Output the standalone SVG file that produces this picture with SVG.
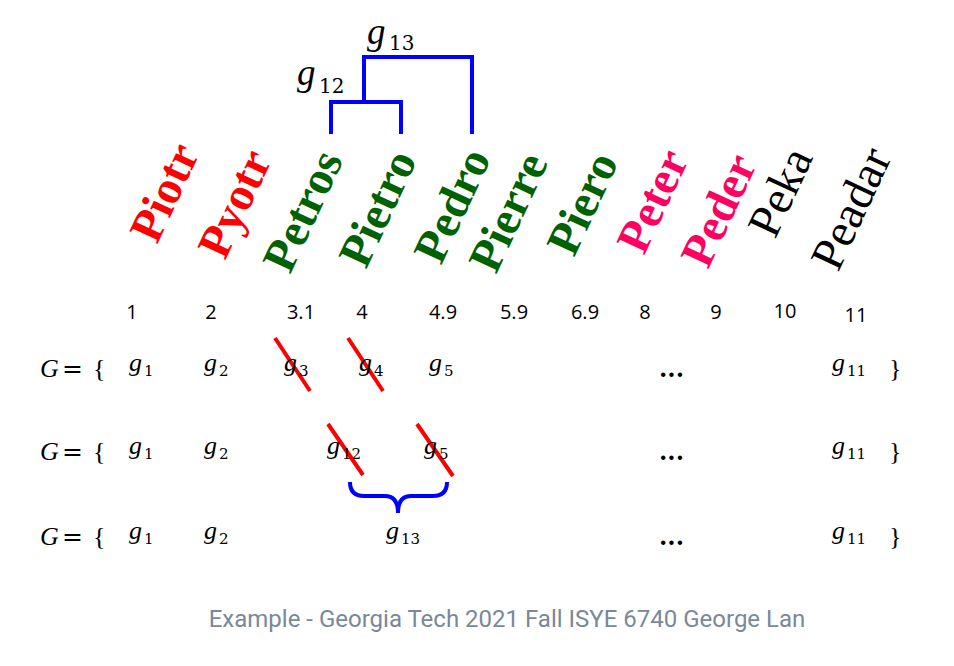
<svg xmlns="http://www.w3.org/2000/svg" width="954" height="666" viewBox="0 0 954 666">
<style>
.nm{font-family:"Liberation Serif",serif;font-size:47px;font-weight:bold}
.nr{font-family:"Liberation Serif",serif;font-size:47px}
.red{fill:#ff0000}.grn{fill:#006100}.pnk{fill:#ff0060}.blk{fill:#000}
.num{font-family:"Open Sans","Liberation Sans",sans-serif;font-size:20px;fill:#000}
.mi{font-family:"Liberation Serif",serif;font-style:italic;font-size:26px;fill:#000}
.mr{font-family:"Liberation Serif",serif;font-size:26px;fill:#000}
.eq{font-family:"DejaVu Serif",serif;font-size:25px;fill:#000}
.dots{font-family:"DejaVu Serif",serif;font-size:24px;font-weight:bold;fill:#000}
.sub{font-family:"DejaVu Serif",serif;font-size:15px;fill:#000}
.big{font-family:"Liberation Serif",serif;font-style:italic;font-size:37px;fill:#000}
.bigsub{font-family:"DejaVu Serif",serif;font-size:20px;fill:#000}
.blue{stroke:#0000ff;stroke-width:4;fill:none}
.strike{stroke:#ff0000;stroke-width:4;fill:none}
.cap{font-family:Roboto,sans-serif;font-size:24px;fill:#7a8899}
</style>
<rect width="954" height="666" fill="#fff"/>
<g id="names">
<g id="n-piotr"><text class="nm red" transform="translate(157,245) rotate(-65)">Piotr</text></g>
<g id="n-pyotr"><text class="nm red" transform="translate(225,261) rotate(-65)">Pyotr</text></g>
<g id="n-petros"><text class="nm grn" transform="translate(290,275) rotate(-65)">Petros</text></g>
<g id="n-pietro"><text class="nm grn" transform="translate(366,270) rotate(-65)">Pietro</text></g>
<g id="n-pedro"><text class="nm grn" transform="translate(441,266) rotate(-65)">Pedro</text></g>
<g id="n-pierre"><text class="nm grn" transform="translate(496,275) rotate(-65)">Pierre</text></g>
<g id="n-piero"><text class="nm grn" transform="translate(574,258) rotate(-65)">Piero</text></g>
<g id="n-peter"><text class="nm pnk" transform="translate(644,256) rotate(-65)">Peter</text></g>
<g id="n-peder"><text class="nm pnk" transform="translate(708,270) rotate(-65)">Peder</text></g>
<g id="n-peka"><text class="nr blk" transform="translate(775,240) rotate(-65)">Peka</text></g>
<g id="n-peadar"><text class="nr blk" transform="translate(838,273) rotate(-65)">Peadar</text></g>
</g>
<g id="connectors">
<path class="blue" d="M331,134 V102 H401 V134"/>
<path class="blue" d="M364,102 V57 H472 V134"/>
<path class="blue" d="M350,482 Q350,496 364,496 L385,496 Q398,496 398,513 Q398,496 411,496 L433,496 Q447,496 447,482"/>
<path class="strike" d="M275,338 L310,391 M348,338 L383,391 M328,424 L363,475 M417,424 L453,476"/>
</g>
<g id="labels">
<text class="big" x="297" y="85">g</text><text class="bigsub" x="319" y="93">12</text>
<text class="big" x="367" y="44">g</text><text class="bigsub" x="389" y="50">13</text>
</g>
<g id="numbers" class="num" text-anchor="middle">
<text x="132" y="319">1</text><text x="211" y="319">2</text><text x="301" y="319">3.1</text>
<text x="362" y="319">4</text><text x="443" y="319">4.9</text><text x="514" y="319">5.9</text>
<text x="585" y="319">6.9</text><text x="645" y="319">8</text><text x="716" y="319">9</text>
<text x="785" y="318">10</text><text x="856" y="322">11</text>
</g>
<g id="row1">
<text class="mi" x="40" y="377">G</text><text class="eq" x="62" y="377">=</text><text class="mr" x="93" y="377">{</text>
<text class="mi" x="129" y="371">g</text><text class="sub" x="144" y="376">1</text>
<text class="mi" x="204" y="371">g</text><text class="sub" x="219" y="376">2</text>
<text class="mi" x="284" y="371">g</text><text class="sub" x="299" y="376">3</text>
<text class="mi" x="359" y="371">g</text><text class="sub" x="374" y="376">4</text>
<text class="mi" x="429" y="371">g</text><text class="sub" x="444" y="376">5</text>
<text class="dots" x="659" y="377">...</text>
<text class="mi" x="832" y="371">g</text><text class="sub" x="847" y="376">11</text>
<text class="mr" x="889" y="377">}</text>
</g>
<g id="row2">
<text class="mi" x="40" y="460">G</text><text class="eq" x="62" y="460">=</text><text class="mr" x="93" y="460">{</text>
<text class="mi" x="129" y="454">g</text><text class="sub" x="144" y="459">1</text>
<text class="mi" x="204" y="454">g</text><text class="sub" x="219" y="459">2</text>
<text class="mi" x="327" y="454">g</text><text class="sub" x="342" y="459">12</text>
<text class="mi" x="424" y="454">g</text><text class="sub" x="439" y="459">5</text>
<text class="dots" x="659" y="460">...</text>
<text class="mi" x="832" y="454">g</text><text class="sub" x="847" y="459">11</text>
<text class="mr" x="889" y="460">}</text>
</g>
<g id="row3">
<text class="mi" x="40" y="545">G</text><text class="eq" x="62" y="545">=</text><text class="mr" x="93" y="545">{</text>
<text class="mi" x="129" y="539">g</text><text class="sub" x="144" y="544">1</text>
<text class="mi" x="204" y="539">g</text><text class="sub" x="219" y="544">2</text>
<text class="mi" x="386" y="539">g</text><text class="sub" x="401" y="544">13</text>
<text class="dots" x="659" y="545">...</text>
<text class="mi" x="832" y="539">g</text><text class="sub" x="847" y="544">11</text>
<text class="mr" x="889" y="545">}</text>
</g>
<text class="cap" x="507" y="627" text-anchor="middle">Example - Georgia Tech 2021 Fall ISYE 6740 George Lan</text>
</svg>
